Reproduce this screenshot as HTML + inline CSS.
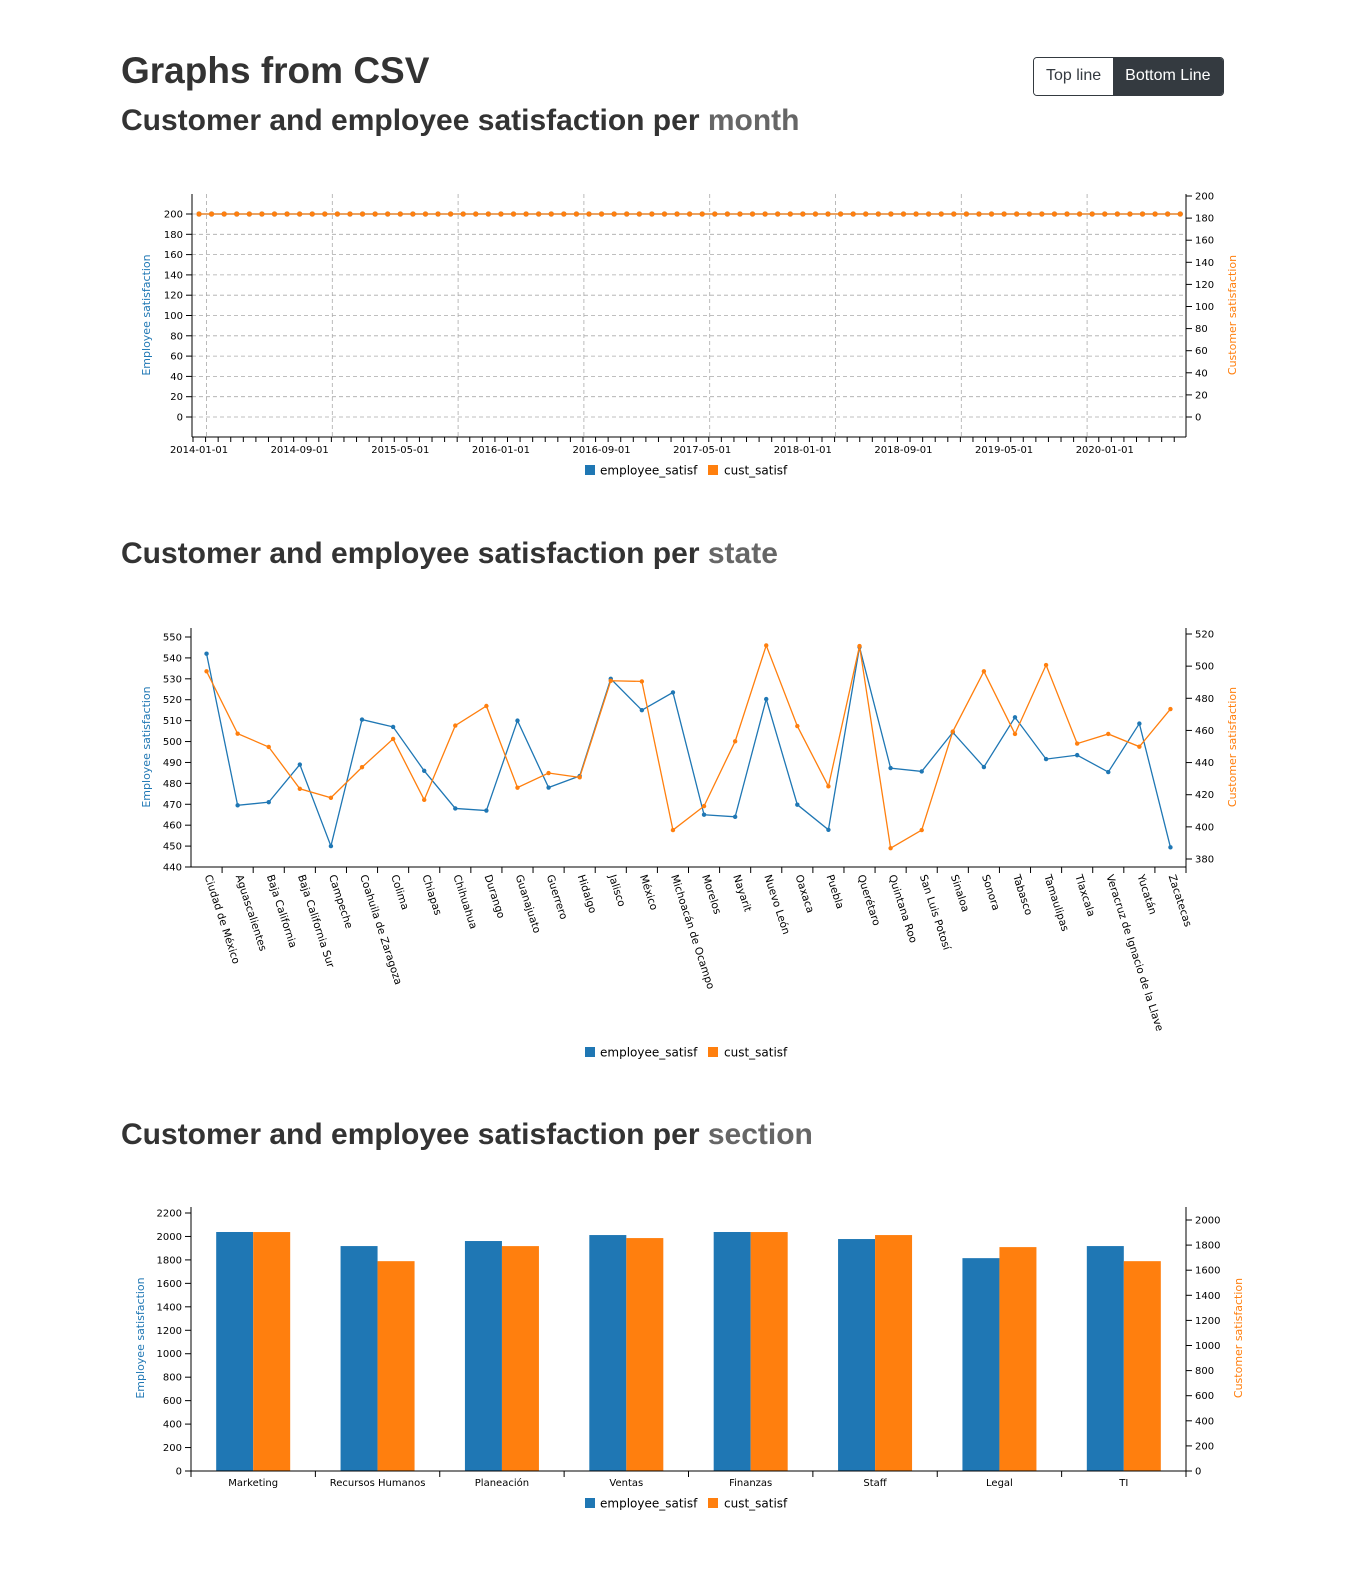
<!DOCTYPE html>
<html><head><meta charset="utf-8">
<style>
body{margin:0;background:#fff;width:1354px;height:1577px;position:relative;overflow:hidden;font-family:"Liberation Sans",sans-serif;color:#212529}
h1{position:absolute;left:121px;top:50px;margin:0;font-size:37px;font-weight:600;color:#333}
h2{position:absolute;left:121px;margin:0;font-size:30px;font-weight:600;color:#333}
h2 span{color:#666}
.btns{position:absolute;left:1033px;top:57px;height:37px;display:flex;border:1px solid #343a40;border-radius:4px;overflow:hidden;font-size:16px}
.btns div{padding:0 12px;line-height:35px}
.b1{background:#fff;color:#343a40}
.b2{background:#343a40;color:#fff}
svg{position:absolute;left:0;top:0}
svg text{font-family:"DejaVu Sans",sans-serif;font-size:10px;fill:#000}
</style></head><body>
<h1>Graphs from CSV</h1>
<div class="btns">
<div class="b1">Top line</div>
<div class="b2">Bottom Line</div>
</div>
<h2 style="top:104px">Customer and employee satisfaction per <span>month</span></h2>
<h2 style="top:537px">Customer and employee satisfaction per <span>state</span></h2>
<h2 style="top:1118px">Customer and employee satisfaction per <span>section</span></h2>
<svg id="s" width="1354" height="1577"></svg>
<script>
// ---- data ----
const monthCount = 79;
const monthEmp = Array(79).fill(200);
const monthCust = Array(79).fill(200);
const monthTickLabels = ["2014-01-01","2014-09-01","2015-05-01","2016-01-01","2016-09-01","2017-05-01","2018-01-01","2018-09-01","2019-05-01","2020-01-01"];
const monthLeftTicks = [0,20,40,60,80,100,120,140,160,180,200];
const monthRightTicks = [0,20,40,60,80,100,120,140,160,180,200];

const states = ["Ciudad de México","Aguascalientes","Baja California","Baja California Sur","Campeche","Coahuila de Zaragoza","Colima","Chiapas","Chihuahua","Durango","Guanajuato","Guerrero","Hidalgo","Jalisco","México","Michoacán de Ocampo","Morelos","Nayarit","Nuevo León","Oaxaca","Puebla","Querétaro","Quintana Roo","San Luis Potosí","Sinaloa","Sonora","Tabasco","Tamaulipas","Tlaxcala","Veracruz de Ignacio de la Llave","Yucatán","Zacatecas"];
const stateEmp = [542,469.5,471,489,450,510.5,507,486,468,467,510,478,483.5,530,515,523.5,465,464,520.3,469.8,457.8,545.2,487.3,485.7,504.4,487.8,511.6,491.6,493.5,485.4,508.6,449.4];
const stateCust = [496.8,458,449.7,423.7,418.1,437.1,454.7,416.8,463,475.2,424.4,433.5,430.8,490.9,490.5,398,412.9,453.2,512.9,462.7,425.2,512.5,386.7,398,459.3,496.8,457.8,500.7,451.8,457.8,449.9,473.3];
const stateLeftTicks = [440,450,460,470,480,490,500,510,520,530,540,550];
const stateRightTicks = [380,400,420,440,460,480,500,520];

const sections = ["Marketing","Recursos Humanos","Planeación","Ventas","Finanzas","Staff","Legal","TI"];
const sectionEmp = [2038,1918,1961,2012,2038,1978,1815,1918];
const sectionCust = [1904,1672,1792,1856,1904,1880,1784,1672];
const sectionLeftTicks = [0,200,400,600,800,1000,1200,1400,1600,1800,2000,2200];
const sectionRightTicks = [0,200,400,600,800,1000,1200,1400,1600,1800,2000];

const BLUE="#1f77b4", ORANGE="#ff7f0e";
const svg=document.getElementById('s');
const NS="http://www.w3.org/2000/svg";
function el(tag,attrs,parent){const e=document.createElementNS(NS,tag);for(const k in attrs)e.setAttribute(k,attrs[k]);(parent||svg).appendChild(e);return e;}
function lin(d0,d1,r0,r1){return v=>r0+(v-d0)*(r1-r0)/(d1-d0);}

function leftAxis(x,y,ticks,top,bottom,name){
  const g=el('g',{});
  
  
  el('line',{x1:x,x2:x,y1:top,y2:bottom,stroke:'#000'},g);
  ticks.forEach(t=>{const yy=y(t);el('line',{x1:x-6,x2:x,y1:yy,y2:yy,stroke:'#000'},g);
    const tx=el('text',{x:x-9,y:yy+3.5,'text-anchor':'end'},g);tx.textContent=t;});
}
function rightAxis(x,y,ticks,top,bottom,name){
  const g=el('g',{});
  
  
  el('line',{x1:x,x2:x,y1:top,y2:bottom,stroke:'#000'},g);
  ticks.forEach(t=>{const yy=y(t);el('line',{x1:x,x2:x+6,y1:yy,y2:yy,stroke:'#000'},g);
    const tx=el('text',{x:x+9,y:yy+3.5},g);tx.textContent=t;});
}
function axisTitle(x,y,txt,color,name){
  const t=el('text',{transform:`translate(${x},${y}) rotate(-90)`,'text-anchor':'middle',style:`fill:${color};font-size:11px`});
  
  
  t.textContent=txt;
}
function legend(y,name){
  const g=el('g',{});
  
  
  el('rect',{x:585,y:y-5,width:10,height:10,fill:BLUE},g);
  let t=el('text',{x:600,y:y+4.5,style:'font-size:12px'},g);t.textContent='employee_satisf';
  el('rect',{x:708,y:y-5,width:10,height:10,fill:ORANGE},g);
  t=el('text',{x:724,y:y+4.5,style:'font-size:12px'},g);t.textContent='cust_satisf';
}
function series(xs,ys,color,name,r){
  const g=el('g',{});
  
  
  el('polyline',{points:xs.map((x,i)=>x+','+ys[i]).join(' '),fill:'none',stroke:color,'stroke-width':1.3},g);
  xs.forEach((x,i)=>{const c=el('circle',{cx:x,cy:ys[i],r:r,fill:color},g);
    
    });
}

// ---- Chart 1: month ----
(function(){
  const L=192,R=1186,T=194,B=437;
  const yL=lin(0,200,417,214), yR=lin(0,200,417,196);
  const x=i=>199+i*12.58;
  monthLeftTicks.forEach(t=>el('line',{x1:L,x2:R,y1:yL(t),y2:yL(t),stroke:'#aaa','stroke-dasharray':'4,3','stroke-width':0.8}));
  for(let k=0;k<8;k++){const gx=206.5+k*125.8;el('line',{x1:gx,x2:gx,y1:T,y2:B,stroke:'#aaa','stroke-dasharray':'4,3','stroke-width':0.8});}
  leftAxis(L,yL,monthLeftTicks,T,B,'month-left-axis');
  rightAxis(R,yR,monthRightTicks,T,B,'month-right-axis');
  const gx=el('g',{});
  
  
  el('line',{x1:L,x2:R,y1:B,y2:B,stroke:'#000'},gx);
  for(let i=0;i<monthCount;i++){el('line',{x1:x(i)-6,x2:x(i)-6,y1:B,y2:B+5,stroke:'#000'},gx);}
  monthTickLabels.forEach((lab,k)=>{const t=el('text',{x:x(k*8),y:B+16,'text-anchor':'middle'},gx);t.textContent=lab;});
  axisTitle(150,315,'Employee satisfaction',BLUE,'month-left-axis-title');
  axisTitle(1236,315,'Customer satisfaction',ORANGE,'month-right-axis-title');
  series(monthEmp.map((v,i)=>x(i)),monthEmp.map(yL),BLUE,'month-employee-line',2.6);
  series(monthCust.map((v,i)=>x(i)),monthCust.map(yL),ORANGE,'month-customer-line',2.6);
  legend(470,'month-legend');
})();

// ---- Chart 2: state ----
(function(){
  const L=191,R=1186,T=628,B=867;
  const yL=lin(440,550,867,637), yR=lin(380,520,859,634);
  const step=(R-L)/states.length;
  const x=i=>L+step*(i+0.5);
  leftAxis(L,yL,stateLeftTicks,T,B,'state-left-axis');
  rightAxis(R,yR,stateRightTicks,T,B,'state-right-axis');
  const gx=el('g',{});
  
  
  el('line',{x1:L,x2:R,y1:B,y2:B,stroke:'#000'},gx);
  states.forEach((s,i)=>{const tx=L+step*(i+1);el('line',{x1:tx,x2:tx,y1:B,y2:B+6,stroke:'#000'},gx);
    const t=el('text',{transform:`translate(${x(i)-2},${B+9}) rotate(72)`,style:'font-size:10.5px'},gx);t.textContent=s;});
  axisTitle(150,747,'Employee satisfaction',BLUE,'state-left-axis-title');
  axisTitle(1236,747,'Customer satisfaction',ORANGE,'state-right-axis-title');
  series(stateEmp.map((v,i)=>x(i)),stateEmp.map(yL),BLUE,'state-employee-line',2.2);
  series(stateCust.map((v,i)=>x(i)),stateCust.map(yR),ORANGE,'state-customer-line',2.2);
  legend(1052,'state-legend');
})();

// ---- Chart 3: section ----
(function(){
  const L=191,R=1186,T=1207,B=1471;
  const yL=lin(0,2200,1471,1213), yR=lin(0,2000,1471,1220);
  const step=(R-L)/sections.length;
  const bw=37;
  const gb=el('g',{});
  
  
  sections.forEach((s,i)=>{
    const cx=L+step*(i+0.5);
    const b1=el('rect',{x:cx-bw,y:yL(sectionEmp[i]),width:bw,height:B-yL(sectionEmp[i]),fill:BLUE},gb);
    
    
    const b2=el('rect',{x:cx,y:yR(sectionCust[i]),width:bw,height:B-yR(sectionCust[i]),fill:ORANGE},gb);
    
    
  });
  leftAxis(L,yL,sectionLeftTicks,T,B,'section-left-axis');
  rightAxis(R,yR,sectionRightTicks,T,B,'section-right-axis');
  const gx=el('g',{});
  
  
  el('line',{x1:L,x2:R,y1:B,y2:B,stroke:'#000'},gx);
  sections.forEach((s,i)=>{const tx=L+step*i;el('line',{x1:tx,x2:tx,y1:B,y2:B+6,stroke:'#000'},gx);
    const t=el('text',{x:L+step*(i+0.5),y:B+15,'text-anchor':'middle'},gx);t.textContent=s;});
  el('line',{x1:R,x2:R,y1:B,y2:B+6,stroke:'#000'},gx);
  axisTitle(144,1338,'Employee satisfaction',BLUE,'section-left-axis-title');
  axisTitle(1242,1338,'Customer satisfaction',ORANGE,'section-right-axis-title');
  legend(1503,'section-legend');
})();
</script>
</body></html>
